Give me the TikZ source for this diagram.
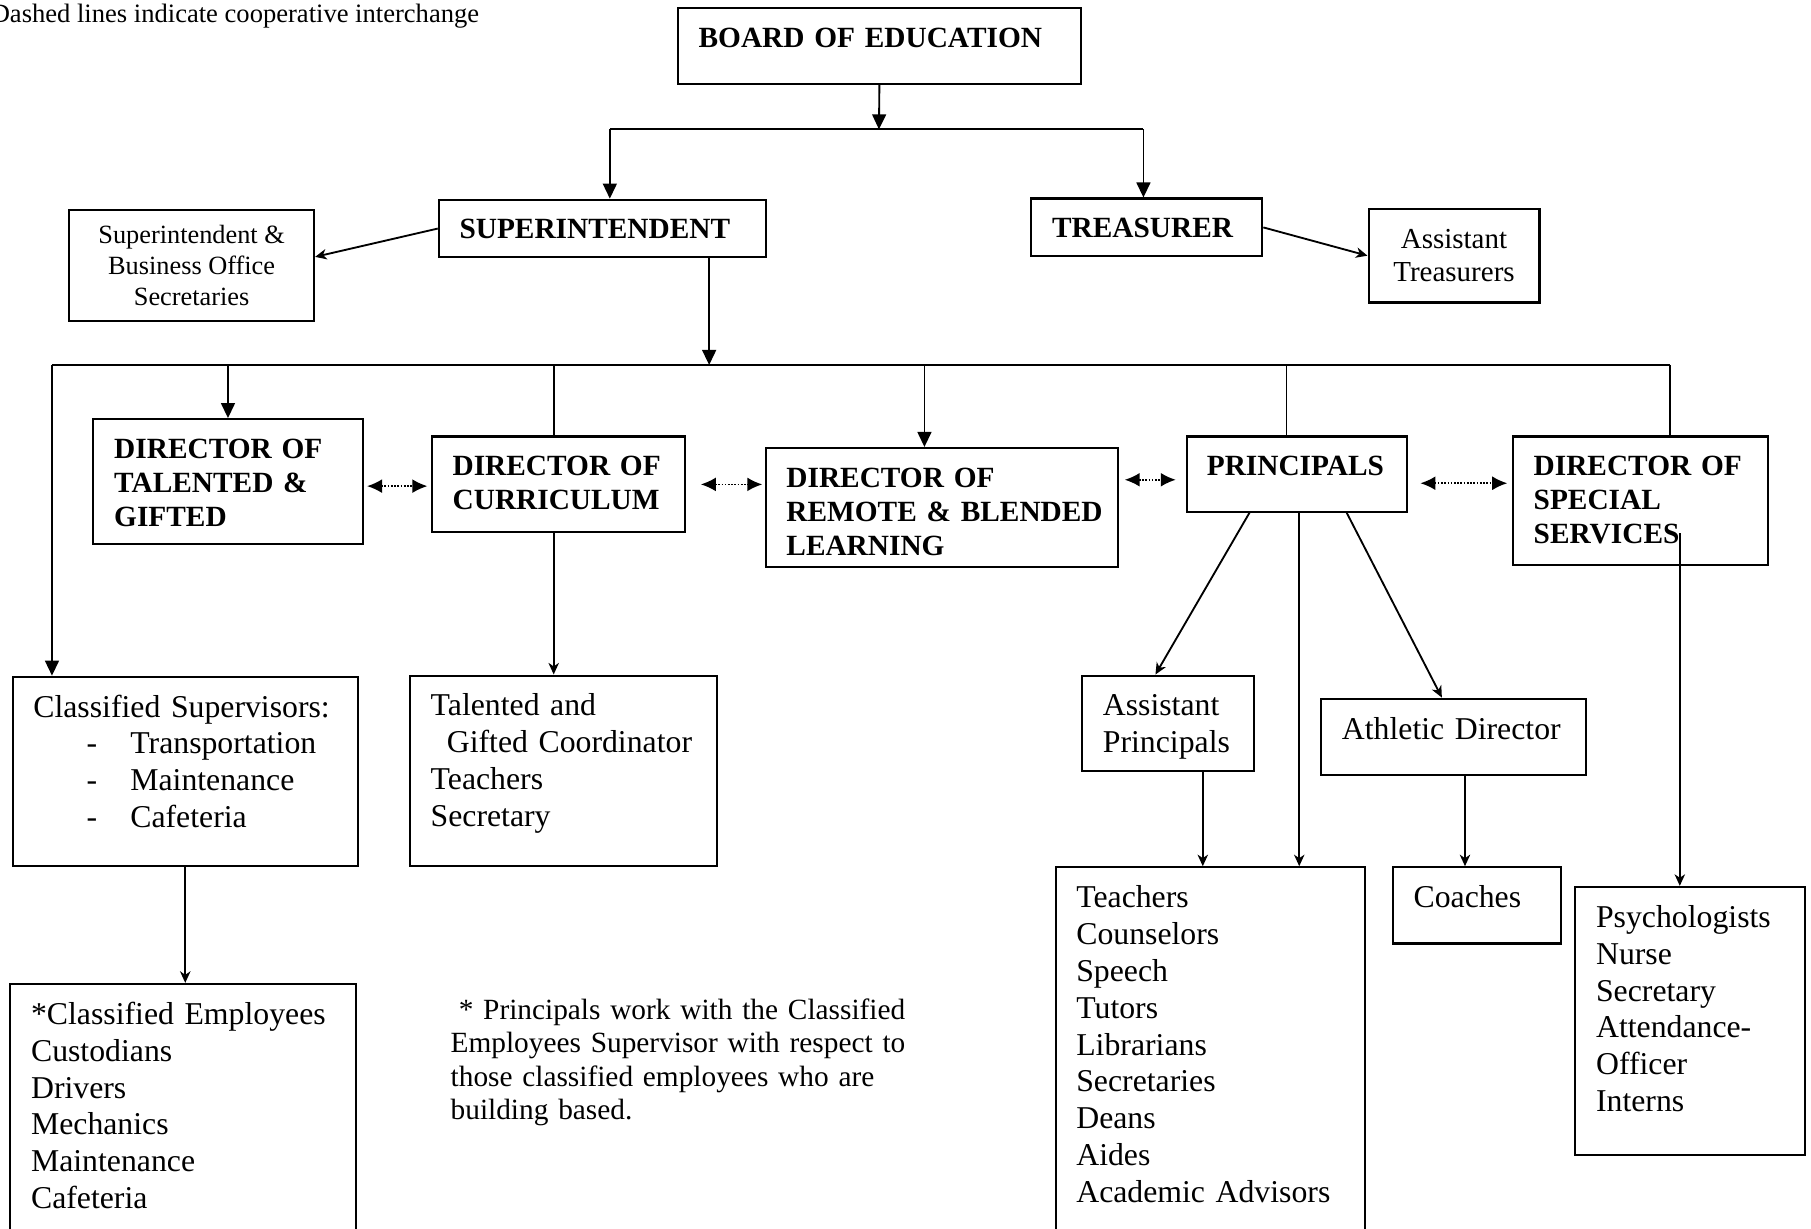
\documentclass[tikz,border=0pt]{standalone}
\usepackage{fontspec}
\setmainfont{Liberation Serif}
\usetikzlibrary{arrows.meta,calc}
\hyphenpenalty=10000
\exhyphenpenalty=10000
\newcommand{\headfont}{\fontsize{25.4}{29.5}\selectfont\bfseries}
\newcommand{\listfont}{\fontsize{27.5}{31.9}\selectfont}
\newcommand{\secfont}{\fontsize{22.8}{26.5}\selectfont}
\newcommand{\midfont}{\fontsize{25.1}{29}\selectfont}
\newcommand{\notefont}{\fontsize{25.4}{29}\selectfont}
\newcommand{\legendfont}{\fontsize{23}{27}\selectfont}
\begin{document}
\begin{tikzpicture}[x=1pt, y=-1pt,
    box/.style={draw, line width=1.8pt, anchor=north west, align=left},
    head/.style={box, font=\headfont, inner xsep=18pt, inner ysep=15pt, text height=19pt},
    list/.style={box, font=\listfont, inner xsep=18pt, inner ysep=14pt, text height=21pt},
    link/.style={line width=1.6pt},
    arr/.style={link, -{Stealth[length=10pt, width=9pt, inset=3pt]}},
    tri/.style={link, -{Triangle[length=13pt, width=12pt]}},
    dbl/.style={line width=1.4pt, dash pattern=on 1.4pt off 1.4pt, {Latex[length=13pt, width=12pt]}-{Latex[length=13pt, width=12pt]}}]
    \useasboundingbox (0,0) rectangle (1568,1064);

    \node[font=\legendfont, anchor=base east, inner sep=0] (legend) at (415,19.6) {Dashed lines indicate cooperative interchange};

    \node[head, text width=313pt, text depth=17pt] (board) at (586,6) {BOARD OF EDUCATION};
    \node[head, text width=247pt, text depth=1pt] (sup) at (379,172) {SUPERINTENDENT};
    \node[head, text width=164pt, text depth=1pt] (treas) at (892,171) {TREASURER};
    \node[box, font=\secfont, align=center, minimum width=212pt, minimum height=96pt, inner sep=0] (supsec) at (59,181) {Superintendent \&\\Business Office\\Secretaries};
    \node[box, font=\midfont, align=center, minimum width=148pt, minimum height=81pt, inner sep=0] (asttreas) at (1184,180) {Assistant\\Treasurers};

    \node[head, text width=197pt, text depth=59pt] (tg) at (80,362) {DIRECTOR~OF\\TALENTED~\&\\GIFTED};
    \node[head, text width=183pt, text depth=34pt] (curr) at (373,377) {DIRECTOR~OF\\CURRICULUM};
    \node[head, text width=269pt, text depth=54pt] (remote) at (662,387) {DIRECTOR~OF\\REMOTE~\&~BLENDED\\LEARNING};
    \node[head, inner xsep=17pt, text width=156pt, text depth=16pt] (princ) at (1027,377) {PRINCIPALS};
    \node[head, text width=185pt, text depth=62pt] (spec) at (1309,377) {DIRECTOR~OF\\SPECIAL\\SERVICES};

    \node[list, text width=263pt, text depth=115pt] (clsup) at (10,585) {Classified Supervisors:\\\hspace*{46pt}\makebox[38pt][l]{-}Transportation\\\hspace*{46pt}\makebox[38pt][l]{-}Maintenance\\\hspace*{46pt}\makebox[38pt][l]{-}Cafeteria};
    \node[list, text width=230pt, text depth=116pt] (tgc) at (354,584) {Talented and\\\hspace*{14pt}Gifted~Coordinator\\Teachers\\Secretary};
    \node[list, text width=113pt, text depth=34pt] (asstp) at (936,584) {Assistant\\Principals};
    \node[list, text width=193pt, text depth=17pt] (athl) at (1143,604) {Athletic~Director};
    \node[list, text width=232pt, text depth=281pt] (staff) at (913,750) {Teachers\\Counselors\\Speech\\Tutors\\Librarians\\Secretaries\\Deans\\Aides\\Academic~Advisors};
    \node[list, text width=110pt, text depth=17pt] (coach) at (1205,750) {Coaches};
    \node[list, text width=163pt, text depth=183pt] (psych) at (1363,767) {Psychologists\\Nurse\\Secretary\\Attendance-\\Officer\\Interns};
    \node[list, text width=263pt, text depth=180pt] (clemp) at (8,851) {*Classified~Employees\\Custodians\\Drivers\\Mechanics\\Maintenance\\Cafeteria};

    \node[font=\notefont, anchor=north west, align=left, inner sep=0, text width=410pt, text height=19pt] (note) at (390,863.4) {\hspace*{7pt}* Principals work with the Classified\\Employees Supervisor with respect to\\those classified employees who are\\building based.};

    \coordinate (tj) at (761,112);
    \coordinate (tl) at (528,112);
    \coordinate (tr) at (990,112);
    \draw[tri] (board.south) -- (tj);
    \draw[link] (tl) -- (tr);
    \draw[tri] (tl) -- (tl |- sup.north);
    \draw[tri] (tr) -- (tr |- treas.north);
    \draw[arr] (sup.west) -- (supsec.4);
    \draw[arr] (treas.east) -- (asttreas.west);

    \coordinate (sj) at (614,316);
    \coordinate (bl) at (45,316);
    \coordinate (br) at (1446,316);
    \draw[tri] (sj |- sup.south) -- (sj);
    \draw[link] (bl) -- (br);
    \draw[tri] (bl) -- (bl |- clsup.north);
    \draw[tri] (tg.north |- bl) -- (tg.north);
    \draw[link] ([xshift=-4pt]curr.north |- bl) -- ([xshift=-4pt]curr.north);
    \draw[tri] ([xshift=-15pt]remote.north |- bl) -- ([xshift=-15pt]remote.north);
    \draw[link] ([xshift=-9pt]princ.north |- bl) -- ([xshift=-9pt]princ.north);
    \draw[link] (br) -- (br |- spec.north);

    \draw[dbl] ($(tg.east)+(3,4)$) -- ($(curr.west |- tg.east)+(-3,4)$);
    \draw[dbl] ($(curr.east)+(13,0)$) -- ($(remote.west |- curr.east)+(-2,0)$);
    \draw[dbl] ($(remote.east |- princ.west)+(5,5)$) -- ($(princ.west)+(-9,5)$);
    \draw[dbl] ($(princ.east)+(11,8)$) -- ($(spec.west |- princ.east)+(-4,8)$);

    \draw[arr] ([xshift=-4pt]curr.south) -- ([xshift=-4pt]curr.south |- tgc.north);
    \draw[arr] (clsup.south) -- (clsup.south |- clemp.north);
    \draw[arr] ([xshift=-41pt]princ.south) -- ([xshift=-11pt]asstp.north);
    \draw[arr] ([xshift=2pt]princ.south) -- ([xshift=2pt]princ.south |- staff.north);
    \draw[arr] ([xshift=43pt]princ.south) -- ([xshift=-10pt]athl.north);
    \draw[arr] ([xshift=30pt]asstp.south) -- ([xshift=30pt]asstp.south |- staff.north);
    \draw[arr] ([xshift=10pt]athl.south) -- ([xshift=10pt]athl.south |- coach.north);
    \draw[arr] ($(spec.south)+(34,-28)$) -- ($(spec.south |- psych.north)+(34,0)$);
\end{tikzpicture}
\end{document}
